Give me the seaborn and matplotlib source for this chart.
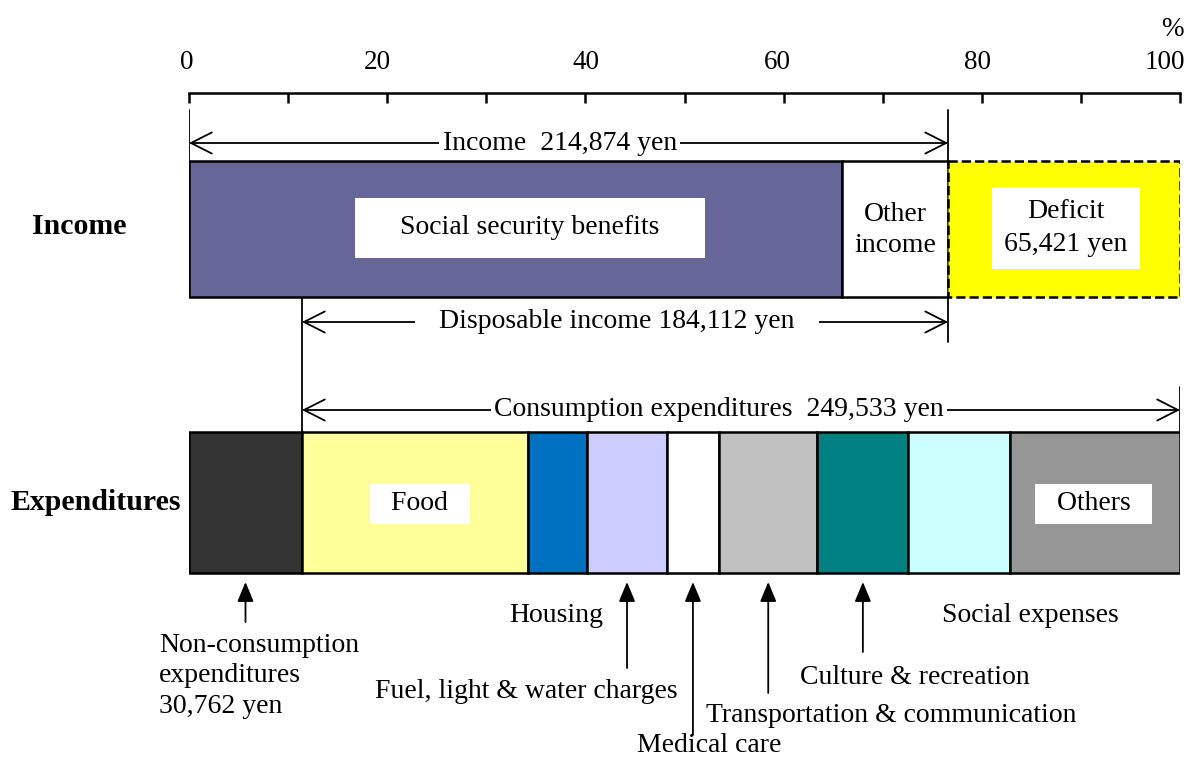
import matplotlib
matplotlib.use("Agg")
import matplotlib.pyplot as plt
import matplotlib.transforms as mtrans
import seaborn as sns
import numpy as np

sns.set_theme(style="white")
plt.rcParams['font.family'] = ['Liberation Serif', 'DejaVu Serif']
plt.rcParams['text.color'] = 'black'
plt.rcParams['xtick.color'] = 'black'

# values (% of total expenditures incl. non-consumption)
income_labels = ['Social security benefits', 'Other\nincome', 'Deficit\n65,421 yen']
income_shares = [65.9, 10.7, 23.4]
income_colors = ['#666699', '#FFFFFF', '#FFFF00']

expend_labels = ['Non-consumption expenditures', 'Food', 'Housing',
                 'Fuel, light & water charges', 'Medical care',
                 'Transportation & communication', 'Culture & recreation',
                 'Social expenses', 'Others']
expend_shares = [11.4, 22.8, 6.0, 8.0, 5.3, 9.9, 9.2, 10.2, 17.2]
expend_colors = ['#333333', '#FFFF99', '#0070C0', '#CCCCFF', '#FFFFFF',
                 '#C0C0C0', '#008080', '#CCFFFF', '#969696']

income_yen = '214,874'
disposable_yen = '184,112'
consumption_yen = '249,533'
noncons_yen = '30,762'

FS = 20
W, H = 1195, 760
X0, X1 = 189, 1180

fig = plt.figure(figsize=(W / 100, H / 100), dpi=100)
ax = fig.add_axes([X0 / W, 0, (X1 - X0) / W, 1])
ax.set_xlim(0, 100)
ax.set_ylim(H, 0)
ax.axis('off')

# scale on top
sc = fig.add_axes([X0 / W, 1 - 93 / H - 0.01, (X1 - X0) / W, 0.01])
sc.set_xlim(0, 100)
for s in ['left', 'right', 'bottom']:
    sc.spines[s].set_visible(False)
sc.spines['top'].set_color('black')
sc.spines['top'].set_linewidth(1.8)
sc.set_yticks([])
sc.xaxis.tick_top()
sc.set_xticks(np.arange(0, 101, 20))
sc.set_xticks(np.arange(0, 101, 10), minor=True)
sc.tick_params(axis='x', which='both', direction='in', length=7, width=1.8,
               color='black', top=True, bottom=False)
sc.tick_params(axis='x', which='major', labelsize=19.5, pad=13, labelcolor='black')
sc.patch.set_alpha(0)
for lab, dx in zip(sc.get_xticklabels(), [-2, -10, 1, -6, -4, -15]):
    lab.set_transform(lab.get_transform() +
                      mtrans.ScaledTranslation(dx / 100, 0, fig.dpi_scale_trans))
ax.text(99.2, 29, '%', fontsize=19.5, ha='center', va='center')

# stacked bars
inc_left = np.concatenate([[0], np.cumsum(income_shares)[:-1]])
exp_left = np.concatenate([[0], np.cumsum(expend_shares)[:-1]])
for i, (l, w, c) in enumerate(zip(inc_left, income_shares, income_colors)):
    ax.barh(229, w, left=l, height=136, color=c, edgecolor='black',
            linewidth=1.8, linestyle='--' if i == 2 else '-', zorder=2)
for l, w, c in zip(exp_left, expend_shares, expend_colors):
    ax.barh(502.5, w, left=l, height=141, color=c, edgecolor='black',
            linewidth=1.8, zorder=2)

# row labels
ax.text(-11.1, 227, 'Income', fontsize=21.5, fontweight='bold', ha='center', va='center')
ax.text(-9.4, 502, 'Expenditures', fontsize=21.5, fontweight='bold', ha='center', va='center')

# labels inside bars
ax.text(34.4, 228, '    ' + income_labels[0] + '    ', fontsize=FS, ha='center',
        va='center', zorder=3,
        bbox=dict(boxstyle='square,pad=0.62', fc='white', ec='none'))
ax.text(inc_left[1] + income_shares[1] / 2, 230, income_labels[1], fontsize=FS,
        ha='center', va='center', linespacing=1.34, zorder=3)
ax.text(88.5, 228, income_labels[2], fontsize=FS, ha='center', va='center',
        linespacing=1.38, zorder=3,
        bbox=dict(boxstyle='square,pad=0.45', fc='white', ec='none'))
ax.text(23.3, 504, '  ' + expend_labels[1] + '  ', fontsize=FS, ha='center',
        va='center', zorder=3,
        bbox=dict(boxstyle='square,pad=0.28', fc='white', ec='none'))
ax.text(91.3, 504, '  ' + expend_labels[8] + '  ', fontsize=FS, ha='center',
        va='center', zorder=3,
        bbox=dict(boxstyle='square,pad=0.28', fc='white', ec='none'))

# span arrows
inc_end = inc_left[2]
cons_start = exp_left[1]
vl = dict(color='black', lw=1.3, zorder=1)
ax.plot([0, 0], [110, 161], **vl)
ax.plot([inc_end, inc_end], [110, 342], **vl)
ax.plot([cons_start, cons_start], [297, 432], **vl)
ax.plot([100, 100], [387, 432], **vl)

aprops = dict(arrowstyle='<->,head_length=0.75,head_width=0.38', color='black',
              lw=1.3, mutation_scale=20, shrinkA=0, shrinkB=0)
ax.annotate('', xy=(0, 143), xytext=(inc_end, 143), arrowprops=aprops)
ax.annotate('', xy=(cons_start, 322), xytext=(inc_end, 322), arrowprops=aprops)
ax.annotate('', xy=(cons_start, 410), xytext=(100, 410), arrowprops=aprops)
tb = dict(boxstyle='square,pad=0.12', fc='white', ec='none')
ax.text(37.4, 143, f'Income  {income_yen} yen', fontsize=FS, ha='center', va='center', bbox=tb)
ax.text(43.2, 322, f'   Disposable income {disposable_yen} yen   ', fontsize=FS,
        ha='center', va='center', bbox=tb)
ax.text(53.5, 410, f'Consumption expenditures  {consumption_yen} yen', fontsize=FS,
        ha='center', va='center', bbox=tb)

# pointers below the expenditure bar
centers = exp_left + np.array(expend_shares) / 2
up = dict(arrowstyle='-|>,head_length=0.6,head_width=0.25', color='black', lw=1.3,
          mutation_scale=20, shrinkA=0, shrinkB=0)
for idx, ybot in [(0, 622), (3, 668), (4, 735), (5, 693), (6, 652)]:
    ax.annotate('', xy=(centers[idx], 582), xytext=(centers[idx], ybot), arrowprops=up)

ax.text(-3.0, 676, f'Non-consumption\nexpenditures\n{noncons_yen} yen', fontsize=FS,
        ha='left', va='center', linespacing=1.27)
ax.text(37.1, 616, expend_labels[2], fontsize=FS, ha='center', va='center')
ax.text(34.0, 691, expend_labels[3], fontsize=FS, ha='center', va='center')
ax.text(52.5, 745, expend_labels[4], fontsize=FS, ha='center', va='center')
ax.text(70.9, 716, expend_labels[5], fontsize=FS, ha='center', va='center')
ax.text(73.2, 677, expend_labels[6], fontsize=FS, ha='center', va='center')
ax.text(84.9, 616, expend_labels[7], fontsize=FS, ha='center', va='center')

fig.savefig('out.png', dpi=100, facecolor='white')
